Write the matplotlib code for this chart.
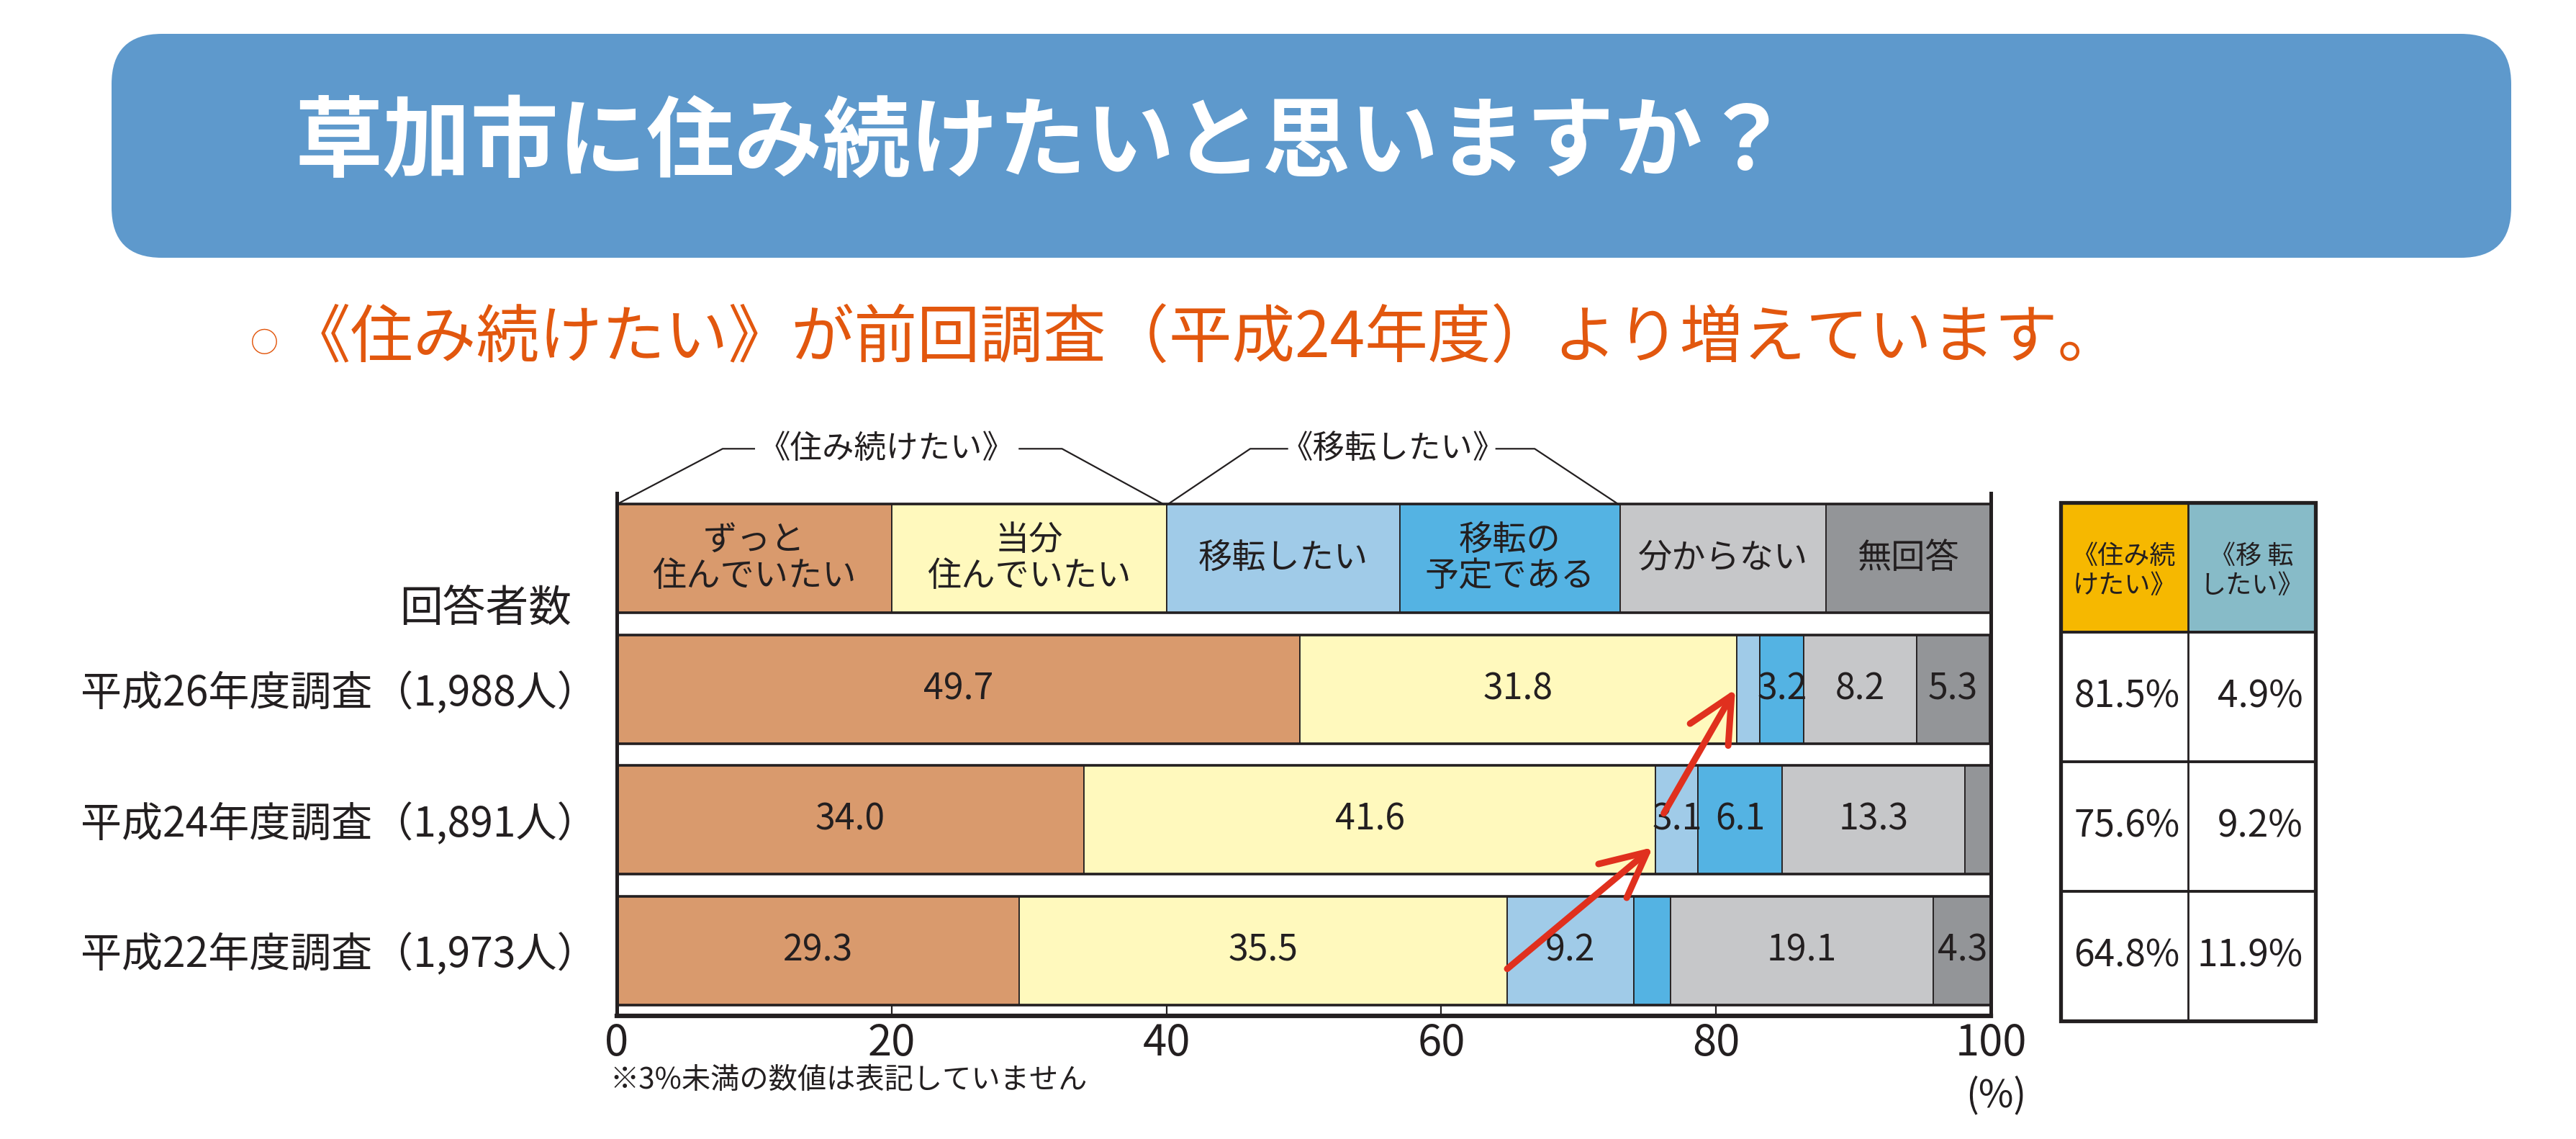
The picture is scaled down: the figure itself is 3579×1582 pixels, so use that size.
import numpy as np
import matplotlib.pyplot as plt
from matplotlib.patches import FancyBboxPatch, Rectangle

plt.rcParams['font.family'] = ['Noto Sans CJK JP', 'DejaVu Sans']

title = '草加市に住み続けたいと思いますか？'
subtitle = '《住み続けたい》が前回調査（平成24年度）より増えています。'

surveys = ['平成26年度調査（1,988人）', '平成24年度調査（1,891人）', '平成22年度調査（1,973人）']
answers = ['ずっと\n住んでいたい', '当分\n住んでいたい', '移転したい',
           '移転の\n予定である', '分からない', '無回答']

# percentages per answer, order: H26, H24, H22
always = [49.7, 34.0, 29.3]
for_now = [31.8, 41.6, 35.5]
want_move = [1.7, 3.1, 9.2]
plan_move = [3.2, 6.1, 2.7]
dont_know = [8.2, 13.3, 19.1]
no_answer = [5.3, 1.9, 4.3]

# summary table
stay_total = [81.5, 75.6, 64.8]
move_total = [4.9, 9.2, 11.9]

x_ticks = [0, 20, 40, 60, 80, 100]

ink = '#231F20'
colors = ['#D99A6D', '#FFF9BD', '#A0CBE8', '#54B3E3', '#C6C7C9', '#939598']
header_widths = [20, 20, 17, 16, 15, 12]
red = '#E0301E'
orange = '#E2570E'

fig = plt.figure(figsize=(35.8, 15.82), dpi=100)

# background layer in pixel coordinates for the banner
bg = fig.add_axes([0, 0, 1, 1])
bg.set_xlim(0, 3580)
bg.set_ylim(1582, 0)
bg.axis('off')
bg.add_patch(FancyBboxPatch((155, 47), 3334, 311,
                            boxstyle='round,pad=0,rounding_size=70',
                            fc='#5E99CC', ec='none'))
bg.text(410, 200, title, color='white', fontsize=88, fontweight='bold',
        ha='left', va='center')
bg.text(367, 478, '○', color=orange, fontsize=28, ha='center', va='center')
bg.text(400, 472, subtitle, color=orange, fontsize=63, ha='left', va='center')

# main stacked bar chart
ax = fig.add_axes([857 / 3580, 1 - 1411 / 1582, 1909 / 3580, 726 / 1582])
ax.set_xlim(0, 100)
ax.set_ylim(3.5, -0.5)
h = 0.83
rows = np.arange(1, 4)

series = [always, for_now, want_move, plan_move, dont_know, no_answer]
left = np.zeros(3)
for vals, col in zip(series, colors):
    ax.barh(rows, vals, left=left, height=h, color=col, edgecolor=ink, linewidth=1.3)
    for r, l, v in zip(rows, left, vals):
        if v >= 3:
            ax.text(l + v / 2, r, f'{v:.1f}', ha='center', va='center',
                    fontsize=36, color=ink)
    left += np.array(vals)

# header row with the answer names
hleft = np.cumsum([0] + header_widths[:-1])
ax.barh(0, header_widths, left=hleft, height=h, color=colors, edgecolor=ink, linewidth=1.3)
for l, w, name in zip(hleft, header_widths, answers):
    ax.text(l + w / 2, 0, name, ha='center', va='center', fontsize=34,
            color=ink, linespacing=1.05)

for r in range(4):
    ax.hlines([r - h / 2, r + h / 2], 0, 100, color=ink, lw=2.6)

# group brackets
y_top = -0.84
y_hdr = -h / 2
ax.plot([0, 7.7, 10.0], [y_hdr, y_top, y_top], color=ink, lw=1.6, clip_on=False)
ax.plot([29.3, 32.4, 39.8], [y_top, y_top, y_hdr], color=ink, lw=1.6, clip_on=False)
ax.text(19.6, y_top, '《住み続けたい》', ha='center', va='center', fontsize=32,
        color=ink, clip_on=False)
ax.plot([40.1, 46.1, 48.8], [y_hdr, y_top, y_top], color=ink, lw=1.6, clip_on=False)
ax.plot([64.0, 66.8, 72.9], [y_top, y_top, y_hdr], color=ink, lw=1.6, clip_on=False)
ax.text(56.5, y_top, '《移転したい》', ha='center', va='center', fontsize=32,
        color=ink, clip_on=False)

# red arrows
arrow = dict(arrowstyle='->,head_length=45,head_width=22', mutation_scale=1,
             color=red, lw=6.5, shrinkA=0, shrinkB=0)
ax.annotate('', xy=(stay_total[1] - 0.2, 2.21), xytext=(stay_total[2], 3.14),
            arrowprops=arrow)
ax.annotate('', xy=(stay_total[0] - 0.1, 1.0), xytext=(stay_total[1] + 0.6, 1.95),
            arrowprops=arrow)

ax.spines['top'].set_visible(False)
for s in ['left', 'right']:
    ax.spines[s].set_linewidth(3.6)
    ax.spines[s].set_color(ink)
ax.spines['bottom'].set_linewidth(4.5)
ax.spines['bottom'].set_color(ink)

ax.set_xticks(x_ticks)
ax.set_xticklabels([str(t) for t in x_ticks])
ax.tick_params(axis='x', direction='in', length=11, width=1.6, color=ink,
               labelsize=43, labelcolor=ink, pad=6)
ax.set_yticks(rows)
ax.set_yticklabels(surveys)
ax.tick_params(axis='y', length=0, pad=19, labelsize=41, labelcolor=ink)

ax.text(-3.3, 0.39, '回答者数', ha='right', va='center', fontsize=43, color=ink,
        clip_on=False)
ax.text(-0.5, 3.99, '※3%未満の数値は表記していません', ha='left', va='center',
        fontsize=29, color=ink, clip_on=False)
ax.text(100.4, 4.11, '(%)', ha='center', va='center', fontsize=38, color=ink,
        clip_on=False)

# summary table on the right
tax = fig.add_axes([2863 / 3580, 1 - 1418 / 1582, 354 / 3580, 720 / 1582])
tax.set_xlim(0, 2)
tax.set_ylim(4, 0)
tax.axis('off')
tax.add_patch(Rectangle((0, 0), 1, 1, fc='#F6B800', ec='none'))
tax.add_patch(Rectangle((1, 0), 1, 1, fc='#87BBC8', ec='none'))
tax.text(0.5, 0.53, '《住み続\nけたい》', ha='center', va='center', fontsize=26,
         color=ink, linespacing=1.15)
tax.text(1.5, 0.53, '《移 転\nしたい》', ha='center', va='center', fontsize=26,
         color=ink, linespacing=1.15)
for i, (s, m) in enumerate(zip(stay_total, move_total)):
    tax.text(0.52, i + 1.5, f'{s:.1f}%', ha='center', va='center', fontsize=37, color=ink)
    tax.text(1.9, i + 1.5, f'{m:.1f}%', ha='right', va='center', fontsize=37, color=ink)
tax.hlines([1, 2, 3], 0, 2, color=ink, lw=2.8)
tax.vlines(1, 0, 4, color=ink, lw=2.0)
tax.add_patch(Rectangle((0, 0), 2, 4, fill=False, ec=ink, lw=3.8, clip_on=False))

fig.savefig('out.png', dpi=100)
